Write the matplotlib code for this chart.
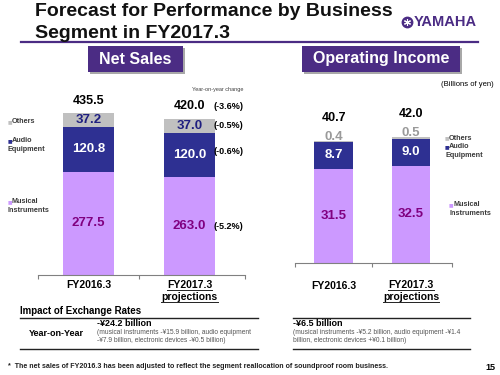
import numpy as np
import matplotlib
matplotlib.use('Agg')
import matplotlib.pyplot as plt
from matplotlib.lines import Line2D
from matplotlib.patches import Rectangle

plt.rcParams['font.family'] = ['Liberation Sans', 'DejaVu Sans']

W, H = 500, 375

# net sales (billions of yen)
years = ['FY2016.3', 'FY2017.3']
sales_musical = [277.5, 263.0]
sales_audio = [120.8, 120.0]
sales_others = [37.2, 37.0]
sales_total = [435.5, 420.0]
# year-on-year change of the projection
yoy_total = '(-3.6%)'
yoy_others = '(-0.5%)'
yoy_audio = '(-0.6%)'
yoy_musical = '(-5.2%)'

# operating income (billions of yen)
oi_musical = [31.5, 32.5]
oi_audio = [8.7, 9.0]
oi_others = [0.4, 0.5]
oi_total = [40.7, 42.0]

fx_sales_head = '-¥24.2 billion'
fx_sales_detail = ['(musical instruments -¥15.9 billion, audio equipment',
                   '-¥7.9 billion, electronic devices -¥0.5 billion)']
fx_oi_head = '-¥6.5 billion'
fx_oi_detail = ['(musical instruments -¥5.2 billion, audio equipment -¥1.4',
                'billion, electronic devices +¥0.1 billion)']

C_MUS = '#CC99FF'
C_AUD = '#2E3092'
C_OTH = '#C0C0C0'
PURPLE = '#4B2C84'
LEG = '#3A3A3A'


def px(x):
    return x / W


def py(y):
    return 1 - y / H


fig = plt.figure(figsize=(5, 3.75), dpi=100)

# header
fig.text(px(35), py(12), 'Forecast for Performance by Business', fontsize=14,
         weight='bold', va='center', color='#111111')
fig.text(px(35), py(33), 'Segment in FY2017.3', fontsize=14,
         weight='bold', va='center', color='#111111')
fig.add_artist(Line2D([px(21), px(478)], [py(42), py(42)], color=PURPLE, lw=1.6,
                      transform=fig.transFigure))
fig.add_artist(Line2D([px(407)], [py(22)], marker='o', markersize=7.5, color=PURPLE,
                      transform=fig.transFigure))
fig.add_artist(Line2D([px(407)], [py(22)], marker=(6, 2, 0), markersize=5, color='white',
                      mew=0.8, transform=fig.transFigure))
fig.text(px(414), py(22.5), 'YAMAHA', fontsize=10.5, weight='bold', color=PURPLE, va='center')


def title_box(x0, x1, label):
    fig.add_artist(Rectangle((px(x0 + 2), py(74)), (x1 - x0) / W, 26 / H,
                             transform=fig.transFigure, color='#A8A8A8', lw=0))
    fig.add_artist(Rectangle((px(x0), py(72)), (x1 - x0) / W, 26 / H,
                             transform=fig.transFigure, color=PURPLE, lw=0))
    fig.text(px((x0 + x1) / 2), py(59), label, fontsize=11.5, weight='bold',
             color='white', ha='center', va='center')


title_box(88, 183, 'Net Sales')
title_box(302, 460, 'Operating Income')

fig.text(px(494), py(84), '(Billions of yen)', fontsize=5.5, ha='right', va='center')
fig.text(px(243), py(89), 'Year-on-year change', fontsize=4, ha='right', va='center',
         color='#404040')

underlined = []


def setup_axes(ax, height_px, ymax, right_end, labels_dy):
    ax.set_xlim(-0.5, right_end)
    ax.set_ylim(0, ymax)
    for s in ['top', 'left', 'right']:
        ax.spines[s].set_visible(False)
    ax.spines['bottom'].set_color('#808080')
    ax.spines['bottom'].set_linewidth(0.8)
    ax.set_yticks([])
    ax.set_xticks([-0.5, 0.5, right_end])
    ax.set_xticklabels([])
    ax.tick_params(axis='x', length=3, color='#808080', width=0.8)
    tr = ax.get_xaxis_transform()
    d0, d1, d2 = labels_dy
    ax.text(0, -d0 / height_px, years[0], transform=tr, ha='center', va='center',
            fontsize=7.5, weight='bold')
    t1 = ax.text(1, -d1 / height_px, years[1], transform=tr, ha='center', va='center',
                 fontsize=7.5, weight='bold')
    t2 = ax.text(1, -d2 / height_px, 'projections', transform=tr, ha='center', va='center',
                 fontsize=7.5, weight='bold')
    underlined.extend([t1, t2])


x = np.arange(len(years))

# ---- net sales
ax1 = fig.add_axes([px(38), py(275), 207 / W, 186 / H])
mus = np.array(sales_musical)
aud = np.array(sales_audio)
oth = np.array(sales_others)
ax1.bar(x, mus, 0.5, color=C_MUS)
ax1.bar(x, aud, 0.5, bottom=mus, color=C_AUD)
ax1.bar(x, oth, 0.5, bottom=mus + aud, color=C_OTH)
setup_axes(ax1, 186, 500, 1.55, (10, 10, 22))
for i in x:
    ax1.text(i, mus[i] / 2, f'{mus[i]:.1f}', ha='center', va='center', fontsize=9.5,
             weight='bold', color='#800080')
    ax1.text(i, mus[i] + aud[i] / 2, f'{aud[i]:.1f}', ha='center', va='center', fontsize=9.5,
             weight='bold', color='white')
    ax1.text(i, mus[i] + aud[i] + oth[i] / 2, f'{oth[i]:.1f}', ha='center', va='center',
             fontsize=9.5, weight='bold', color='#1F1F80')
    ax1.text(i, sales_total[i] + 33, f'{sales_total[i]:.1f}', ha='center', va='center',
             fontsize=9, weight='bold')
yoy_x = 1.24
ax1.text(yoy_x, sales_total[1] + 33, yoy_total, ha='left', va='center', fontsize=6.5, weight='bold')
ax1.text(yoy_x, mus[1] + aud[1] + oth[1] / 2, yoy_others, ha='left', va='center', fontsize=6.5, weight='bold')
ax1.text(yoy_x, mus[1] + aud[1] / 2 + 8, yoy_audio, ha='left', va='center', fontsize=6.5, weight='bold')
ax1.text(yoy_x, mus[1] / 2, yoy_musical, ha='left', va='center', fontsize=6.5, weight='bold')

# ---- operating income
ax2 = fig.add_axes([px(295), py(263), 157 / W, 150 / H])
mus2 = np.array(oi_musical)
aud2 = np.array(oi_audio)
oth2 = np.array(oi_others)
ax2.bar(x, mus2, 0.5, color=C_MUS)
ax2.bar(x, aud2, 0.5, bottom=mus2, color=C_AUD)
ax2.bar(x, oth2, 0.5, bottom=mus2 + aud2, color=C_OTH)
setup_axes(ax2, 150, 50, 1.53, (23, 22, 34))
for i in x:
    top = mus2[i] + aud2[i] + oth2[i]
    ax2.text(i, mus2[i] / 2, f'{mus2[i]:.1f}', ha='center', va='center', fontsize=9.5,
             weight='bold', color='#800080')
    ax2.text(i, mus2[i] + aud2[i] / 2, f'{aud2[i]:.1f}', ha='center', va='center', fontsize=9.5,
             weight='bold', color='white')
    ax2.text(i, top + 1.4, f'{oth2[i]:.1f}', ha='center', va='center', fontsize=9.5,
             weight='bold', color='#9A9A9A')
    ax2.text(i, top + 7.7, f'{oi_total[i]:.1f}', ha='center', va='center', fontsize=9,
             weight='bold')


# legends
def legend_item(xs, xt, y, color, lines):
    fig.text(px(xs), py(y), '■', family='DejaVu Sans', fontsize=3.5, color=color,
             ha='left', va='center')
    fig.text(px(xt), py(y), lines[0], fontsize=5.2, weight='bold', color=LEG, va='center')
    if len(lines) > 1:
        fig.text(px(xt - 4), py(y + 8.5), lines[1], fontsize=5.2, weight='bold', color=LEG,
                 va='center')


legend_item(8, 12, 122, C_OTH, ['Others'])
legend_item(8, 12, 141, C_AUD, ['Audio', 'Equipment'])
legend_item(8, 12, 202, C_MUS, ['Musical', 'Instruments'])
legend_item(445, 449, 138, C_OTH, ['Others'])
legend_item(445, 449, 147, C_AUD, ['Audio', 'Equipment'])
legend_item(449, 453, 205, C_MUS, ['Musical', 'Instruments'])

# exchange rate table
fig.text(px(20), py(311), 'Impact of Exchange Rates', fontsize=7.0, weight='bold', va='center')
for x0, x1 in [(20, 258), (293, 470)]:
    for yy in (318, 349):
        fig.add_artist(Line2D([px(x0), px(x1)], [py(yy), py(yy)], color='#222222', lw=1.0,
                              transform=fig.transFigure))
fig.text(px(29), py(333), 'Year-on-Year', fontsize=6.5, weight='bold', va='center')
fig.text(px(97), py(324), fx_sales_head, fontsize=6.5, weight='bold', va='center')
fig.text(px(97), py(333), fx_sales_detail[0], fontsize=4.8, color='#555555', va='center')
fig.text(px(97), py(341), fx_sales_detail[1], fontsize=4.8, color='#555555', va='center')
fig.text(px(293), py(324), fx_oi_head, fontsize=6.5, weight='bold', va='center')
fig.text(px(293), py(333), fx_oi_detail[0], fontsize=4.8, color='#555555', va='center')
fig.text(px(293), py(341), fx_oi_detail[1], fontsize=4.8, color='#555555', va='center')

fig.text(px(8), py(367), '*  The net sales of FY2016.3 has been adjusted to reflect the segment '
         'reallocation of soundproof room business.', fontsize=5.1, weight='bold', va='center',
         color='#222222')
fig.text(px(495), py(367), '15', fontsize=6.5, weight='bold', ha='right', va='center')

# underline the projection labels
fig.canvas.draw()
r = fig.canvas.get_renderer()
inv = fig.transFigure.inverted()
for t in underlined:
    bb = t.get_window_extent(r)
    (a0, b0), (a1, _) = inv.transform([(bb.x0, bb.y0 + 0.5), (bb.x1, bb.y0 + 0.5)])
    fig.add_artist(Line2D([a0, a1], [b0, b0], color='#222222', lw=0.7,
                          transform=fig.transFigure))

fig.savefig('out.png', dpi=100)
